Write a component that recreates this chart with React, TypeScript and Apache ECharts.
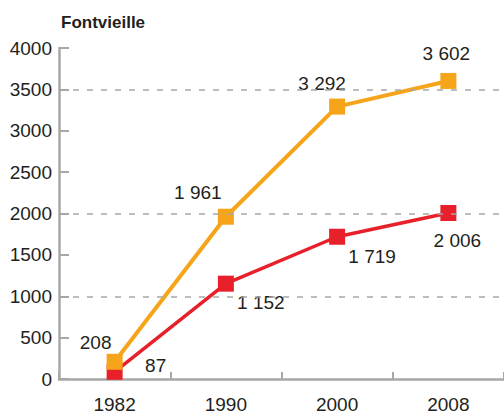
import React, { useEffect, useRef } from "react";
import * as echarts from "echarts";

const years = ["1982", "1990", "2000", "2008"];
const seriesOrange = [208, 1961, 3292, 3602];
const seriesRed = [87, 1152, 1719, 2006];
const dashedLevels = [1000, 2000, 3500];
const yTicks = { min: 0, max: 4000, interval: 500 };

const orangeOffsets: [number, number][] = [[-19, -19], [-28, -24], [-15, -23], [-2, -27]];
const redOffsets: [number, number][] = [[41, -6], [35, 19], [35, 20], [9, 27]];

const FONT = "'Liberation Sans', Arial, sans-serif";
const TEXT = "#231f20";
const AXIS = "#a7a7a7";
const ORANGE = "#f6a51b";
const RED = "#e8202a";
const FS = 19;

const fmt = (v: number) => {
  const s = String(v);
  return s.length > 3 ? s.slice(0, s.length - 3) + " " + s.slice(-3) : s;
};

export default function App() {
  const ref = useRef<HTMLDivElement>(null);
  useEffect(() => {
    if (!ref.current) return;
    const chart = echarts.init(ref.current, undefined, { renderer: "svg" });
    const mkData = (vals: number[], offs: [number, number][]) =>
      vals.map((v, i) => ({
        value: v,
        label: { offset: offs[i] },
      }));
    const labelStyle = {
      show: true,
      position: "inside",
      align: "center",
      verticalAlign: "middle",
      fontFamily: FONT,
      fontSize: FS,
      color: TEXT,
      formatter: (p: any) => fmt(p.value),
    };
    chart.setOption({
      animation: false,
      backgroundColor: "#ffffff",
      title: {
        text: "Fontvieille",
        left: 61,
        top: 14,
        padding: 0,
        textStyle: { fontFamily: FONT, fontWeight: "bold", fontSize: 17, color: TEXT },
      },
      grid: { left: 59, right: -7, top: 48, bottom: 35 },
      xAxis: {
        type: "category",
        data: years,
        boundaryGap: true,
        axisLine: { lineStyle: { color: AXIS, width: 2.5 } },
        axisTick: { show: true, inside: true, length: 7, lineStyle: { color: AXIS, width: 2 } },
        axisLabel: { fontFamily: FONT, fontSize: FS, color: TEXT, margin: 16 },
        splitLine: { show: false },
      },
      yAxis: {
        type: "value",
        min: yTicks.min,
        max: yTicks.max,
        interval: yTicks.interval,
        axisLine: { show: true, lineStyle: { color: AXIS, width: 2.5 } },
        axisTick: { show: true, inside: true, length: 10, lineStyle: { color: AXIS, width: 2 } },
        axisLabel: { fontFamily: FONT, fontSize: FS, color: TEXT, margin: 7, formatter: (v: number) => String(v) },
        splitLine: { show: false },
      },
      series: [
        {
          name: "red",
          type: "line",
          data: mkData(seriesRed, redOffsets),
          symbol: "rect",
          symbolSize: 16,
          itemStyle: { color: RED },
          lineStyle: { color: RED, width: 3.5 },
          z: 3,
          label: labelStyle,
          markLine: {
            silent: true,
            symbol: ["none", "none"],
            label: { show: false },
            lineStyle: { color: AXIS, width: 1.5, type: [6, 8] },
            data: dashedLevels.map((v) => ({ yAxis: v })),
          },
        },
        {
          name: "orange",
          type: "line",
          data: mkData(seriesOrange, orangeOffsets),
          symbol: "rect",
          symbolSize: 16,
          itemStyle: { color: ORANGE },
          lineStyle: { color: ORANGE, width: 4 },
          z: 4,
          label: labelStyle,
        },
      ],
    });
    return () => chart.dispose();
  }, []);
  return <div ref={ref} style={{ width: 504, height: 414, position: "absolute", left: 0, top: 0 }} />;
}
